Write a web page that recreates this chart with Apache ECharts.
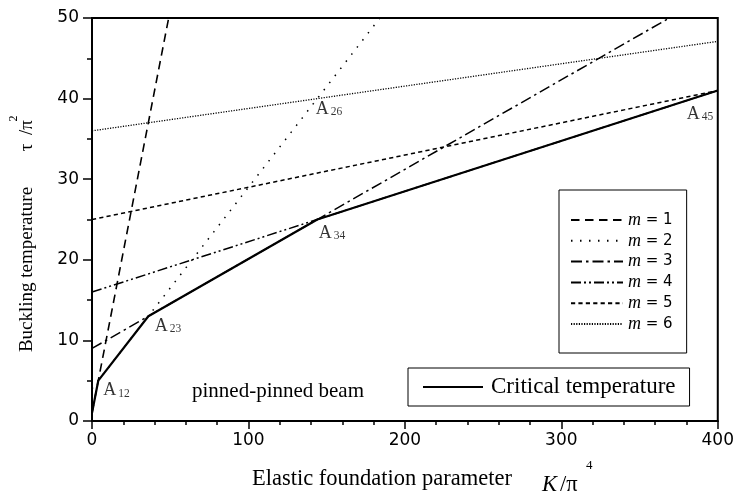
<!DOCTYPE html>
<html><head><meta charset="utf-8">
<script src="https://cdn.jsdelivr.net/npm/echarts@6/dist/echarts.min.js"></script>
<style>html,body{margin:0;padding:0;background:#fff}#c{width:737px;height:494px}</style>
</head><body><div id="c"></div>
<script>
// ---- data ----
const xTickLabels = ['0', '100', '200', '300', '400'];
const yTickLabels = ['0', '10', '20', '30', '40', '50'];
const modeNames = ['m = 1', 'm = 2', 'm = 3', 'm = 4', 'm = 5', 'm = 6'];
const mode1 = [[0, 1], [49, 50]];
const mode2 = [[0, 4], [184, 50]];
const mode3 = [[0, 9], [369, 50]];
const mode4 = [[0, 16], [400, 41]];
const mode5 = [[0, 25], [400, 41]];
const mode6 = [[0, 36], [400, 47.1]];
const criticalName = 'Critical temperature';
const critical = [[0, 1], [4, 5], [36, 13], [144, 25], [400, 41]];
const pointNames = ['12', '23', '34', '26', '45'];
const pointCoords = [[4, 5], [36, 13], [144, 25], [144, 40], [400, 41]];

// ---- styles ----
const SERIF = 'Liberation Serif';
const SANS = 'DejaVu Sans';
const modeData = [mode1, mode2, mode3, mode4, mode5, mode6];
const modeDash = [[8.5, 5.5], [1.5, 7.5], [11, 4, 2.5, 4], [10, 3, 2, 3, 2, 3], [4.2, 3.2], [1.2, 1.4]];
const modeWidth = [1.6, 1.5, 1.5, 1.5, 1.5, 1.3];
const labelOffsets = [[5, 1], [6.5, 1], [1.5, 4.5], [-1.5, 1.5], [-31, 14.5]];

const chart = echarts.init(document.getElementById('c'), null, {renderer: 'canvas'});

const series = modeData.map((d, i) => ({
  name: modeNames[i], type: 'line', data: d, symbol: 'none', silent: true,
  itemStyle: {color: '#000'},
  lineStyle: {color: '#000', width: modeWidth[i], type: modeDash[i], cap: 'butt'}, z: 2
}));
series.push({
  name: criticalName, type: 'line', data: critical, symbol: 'none', silent: true,
  itemStyle: {color: '#000'},
  lineStyle: {color: '#000', width: 2.2, type: 'solid'}, z: 3
});
series.push({
  name: 'points', type: 'scatter', symbolSize: 0, silent: true, z: 4,
  data: pointCoords.map((c, i) => ({
    value: c, name: pointNames[i],
    label: {position: labelOffsets[i]}
  })),
  label: {
    show: true, align: 'left', verticalAlign: 'top',
    formatter: p => '{a|A}{s|' + p.name + '}',
    rich: {
      a: {fontFamily: SERIF, fontSize: 18, lineHeight: 18, color: '#000', verticalAlign: 'top', padding: [0, 0, 7, 0]},
      s: {fontFamily: SERIF, fontSize: 11.5, lineHeight: 12, color: '#000', verticalAlign: 'bottom', padding: [0, 0, 0, 2]}
    }
  }
});

const option = {
  animation: false,
  backgroundColor: '#fff',
  grid: {left: 92, right: 16, top: 18, bottom: 73, show: true, borderColor: '#000', borderWidth: 2, backgroundColor: 'transparent'},
  xAxis: {
    type: 'value', min: 0, max: 400, interval: 100,
    axisLine: {show: true, onZero: false, lineStyle: {color: '#000', width: 2}},
    axisTick: {show: true, length: 8, lineStyle: {color: '#000', width: 1.5}},
    minorTick: {show: true, splitNumber: 5, length: 4, lineStyle: {color: '#000', width: 1.5}},
    splitLine: {show: false},
    axisLabel: {color: '#000', fontFamily: SANS, fontSize: 17, margin: 11,
      formatter: (v, i) => xTickLabels[i]}
  },
  yAxis: {
    type: 'value', min: 0, max: 50, interval: 10,
    axisLine: {show: true, onZero: false, lineStyle: {color: '#000', width: 2}},
    axisTick: {show: true, length: 9, lineStyle: {color: '#000', width: 1.5}},
    minorTick: {show: true, splitNumber: 2, length: 5, lineStyle: {color: '#000', width: 1.5}},
    splitLine: {show: false},
    axisLabel: {color: '#000', fontFamily: SANS, fontSize: 17, margin: 13,
      formatter: (v, i) => yTickLabels[i]}
  },
  legend: [{
    data: modeNames, orient: 'vertical', left: 559, top: 190,
    itemWidth: 52, itemHeight: 14, itemGap: 2.8, padding: [21, 14, 20, 11],
    borderColor: '#000', borderWidth: 1, selectedMode: false,
    itemStyle: {opacity: 0},
    formatter: name => '{i|m}{t| = ' + name.split('= ')[1] + '}',
    textStyle: {rich: {
      i: {fontFamily: SERIF, fontStyle: 'italic', fontSize: 18, lineHeight: 14, color: '#000'},
      t: {fontFamily: SANS, fontSize: 15, lineHeight: 14, color: '#000'}
    }}
  }, {
    data: [criticalName], orient: 'vertical', left: 408, top: 368,
    itemWidth: 60, itemHeight: 14, padding: [7, 14, 7, 14],
    borderColor: '#000', borderWidth: 1, selectedMode: false,
    itemStyle: {opacity: 0},
    textStyle: {fontFamily: SERIF, fontSize: 23, color: '#000', lineHeight: 24, padding: [0, 0, 0, 3]}
  }],
  graphic: [
    {type: 'text', left: 192, top: 381, silent: true,
      style: {text: 'pinned-pinned beam', font: '21px "Liberation Serif"', fill: '#000'}},
    // x axis title
    {type: 'text', x: 252, y: 479.4, silent: true,
      style: {text: 'Elastic foundation parameter', font: '22.5px "Liberation Serif"', fill: '#000', align: 'left', verticalAlign: 'middle'}},
    {type: 'text', x: 542, y: 485.4, silent: true,
      style: {text: 'K', font: 'italic 22.5px "Liberation Serif"', fill: '#000', align: 'left', verticalAlign: 'middle'}},
    {type: 'text', x: 557, y: 497, silent: true,
      style: {text: 's', font: '13px "Liberation Serif"', fill: '#000', align: 'left', verticalAlign: 'middle'}},
    {type: 'text', x: 560, y: 485.4, silent: true,
      style: {text: '/π', font: '22.5px "Liberation Serif"', fill: '#000', align: 'left', verticalAlign: 'middle'}},
    {type: 'text', x: 586, y: 465.5, silent: true,
      style: {text: '4', font: '13px "Liberation Serif"', fill: '#000', align: 'left', verticalAlign: 'middle'}},
    // y axis title
    {type: 'text', x: 27.5, y: 269.5, rotation: Math.PI / 2, silent: true,
      style: {text: 'Buckling temperature', font: '19px "Liberation Serif"', fill: '#000', align: 'center', verticalAlign: 'middle'}},
    {type: 'text', x: 27.5, y: 147.5, rotation: Math.PI / 2, silent: true,
      style: {text: 'τ', font: '19px "Liberation Serif"', fill: '#000', align: 'center', verticalAlign: 'middle'}},
    {type: 'text', x: 27.5, y: 127.5, rotation: Math.PI / 2, silent: true,
      style: {text: '/π', font: '19px "Liberation Serif"', fill: '#000', align: 'center', verticalAlign: 'middle'}},
    {type: 'text', x: 14, y: 118.5, rotation: Math.PI / 2, silent: true,
      style: {text: '2', font: '12px "Liberation Serif"', fill: '#000', align: 'center', verticalAlign: 'middle'}}
  ],
  series: series
};
chart.setOption(option);
</script>
</body></html>
